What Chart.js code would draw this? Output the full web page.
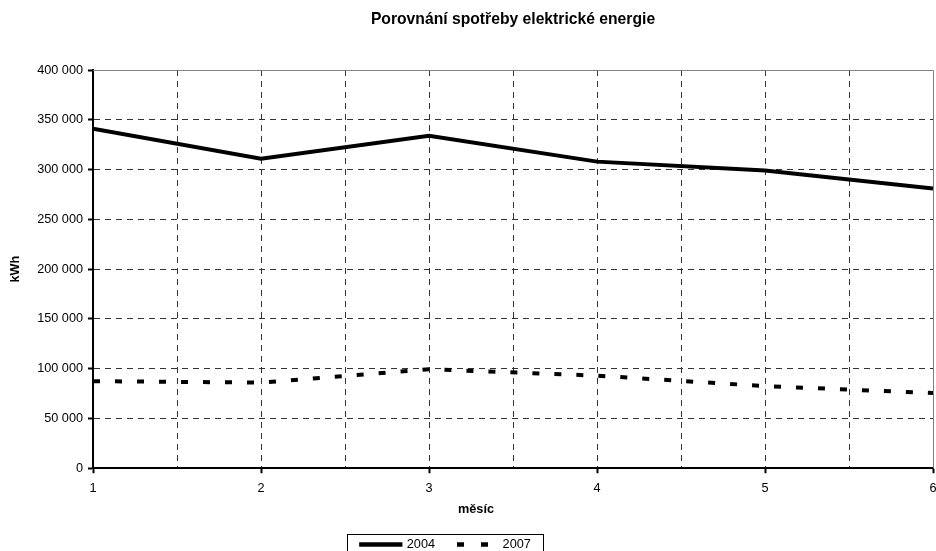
<!DOCTYPE html>
<html>
<head>
<meta charset="utf-8">
<script src="https://cdn.jsdelivr.net/npm/chart.js@4"></script>
<style>
  html, body { margin: 0; padding: 0; background: #fff; }
  #graf { display: block; }
</style>
</head>
<body>
<canvas id="graf" width="936" height="551"></canvas>
<script>
'use strict';

const mesice = [1, 2, 3, 4, 5, 6];
const spotreba2004 = [341000, 311000, 334000, 308000, 299000, 281000];
const spotreba2007 = [87500, 86000, 99500, 93000, 82500, 75500];
const roky = ['2004', '2007'];

const pismo = '"Liberation Sans", Arial, Helvetica, sans-serif';
Chart.defaults.font.family = pismo;
Chart.defaults.font.size = 12.7;
Chart.defaults.color = '#000';

function body(hodnoty) {
  return mesice.map((m, i) => ({x: m, y: hodnoty[i]}));
}

function mezery(v) {
  return String(v).replace(/\B(?=(\d{3})+(?!\d))/g, ' ');
}

// ramecek kolem legendy a sede okraje plochy grafu
const ramecky = {
  id: 'ramecky',
  afterLayout(chart) {
    chart.legend.left -= 22;
    chart.legend.right -= 22;
  },
  beforeDatasetsDraw(chart) {
    const {ctx, chartArea: a} = chart;
    const t = Math.round(a.top) + 0.5;
    const r = Math.round(a.right) + 0.5;
    ctx.save();
    ctx.strokeStyle = '#808080';
    ctx.lineWidth = 1;
    ctx.beginPath();
    ctx.moveTo(a.left, t);
    ctx.lineTo(r, t);
    ctx.lineTo(r, a.bottom);
    ctx.stroke();
    ctx.restore();
  },
  afterDraw(chart) {
    const boxes = chart.legend.legendHitBoxes;
    if (!boxes || !boxes.length) { return; }
    const first = boxes[0];
    const last = boxes[boxes.length - 1];
    const left = Math.round(first.left - 14) + 0.5;
    const right = Math.round(last.left + last.width + 12) + 0.5;
    const top = Math.round(first.top + first.height / 2 - 10) + 0.5;
    const ctx = chart.ctx;
    ctx.save();
    ctx.strokeStyle = '#000';
    ctx.lineWidth = 1;
    ctx.strokeRect(left, top, right - left, 30);
    ctx.restore();
  }
};

new Chart(document.getElementById('graf'), {
  type: 'line',
  data: {
    datasets: [
      {
        label: roky[0],
        data: body(spotreba2004),
        borderColor: '#000',
        backgroundColor: 'transparent',
        borderWidth: 4,
        pointRadius: 0,
        tension: 0,
        fill: false,
      },
      {
        label: roky[1],
        data: body(spotreba2007),
        borderColor: '#000',
        backgroundColor: 'transparent',
        borderWidth: 4,
        borderDash: [7, 15],
        pointRadius: 0,
        tension: 0,
        fill: false,
      },
    ],
  },
  options: {
    responsive: false,
    animation: false,
    layout: {
      padding: {top: 0, left: 0, right: 0, bottom: -9.8},
    },
    scales: {
      x: {
        type: 'linear',
        min: 1,
        max: 6,
        afterFit(scale) {
          scale.paddingRight = 3;
        },
        ticks: {
          stepSize: 0.5,
          padding: 7.4,
          autoSkip: false,
          maxRotation: 0,
          callback: v => Number.isInteger(v) ? String(v) : '',
        },
        grid: {
          color: c => (c.tick && c.tick.value === 6) ? 'transparent' : '#333',
          tickColor: c => (c.tick && Number.isInteger(c.tick.value)) ? '#000' : 'transparent',
          tickLength: 5,
          tickWidth: 2,
        },
        border: {
          display: true,
          color: '#000',
          width: 2,
          dash: [6, 5],
        },
        title: {
          display: true,
          text: 'měsíc' + '\u00a0'.repeat(21),
          font: {weight: 'bold', size: 12.7, lineHeight: 0.97},
          padding: {top: 0, bottom: 0.5},
        },
      },
      y: {
        min: 0,
        max: 400000,
        ticks: {
          stepSize: 50000,
          padding: 5,
          callback: v => mezery(v),
        },
        grid: {
          color: c => (c.tick && c.tick.value === 400000) ? 'transparent' : '#333',
          tickColor: '#000',
          tickLength: 5,
          tickWidth: 2,
        },
        border: {
          display: true,
          color: '#000',
          width: 2,
          dash: [6, 5],
        },
        title: {
          display: true,
          text: 'kWh',
          font: {weight: 'bold', size: 12.7},
          padding: {top: 7.4, bottom: 9.5},
        },
      },
    },
    plugins: {
      title: {
        display: true,
        text: 'Porovnání spotřeby elektrické energie',
        fullSize: false,
        font: {weight: 'bold', size: 15.7},
        color: '#000',
        padding: {top: 10, bottom: 41.2},
      },
      legend: {
        display: true,
        position: 'bottom',
        labels: {
          boxWidth: 39.25,
          boxHeight: 0.5,
          padding: 22,
          color: '#000',
          font: {size: 12.7},
          generateLabels(chart) {
            const items = Chart.defaults.plugins.legend.labels.generateLabels(chart);
            items.forEach(it => {
              it.fillStyle = 'transparent';
              if (it.lineDash && it.lineDash.length) { it.lineDash = [7, 17]; }
            });
            return items;
          },
        },
      },
      tooltip: {enabled: false},
    },
  },
  plugins: [ramecky],
});
</script>
</body>
</html>
